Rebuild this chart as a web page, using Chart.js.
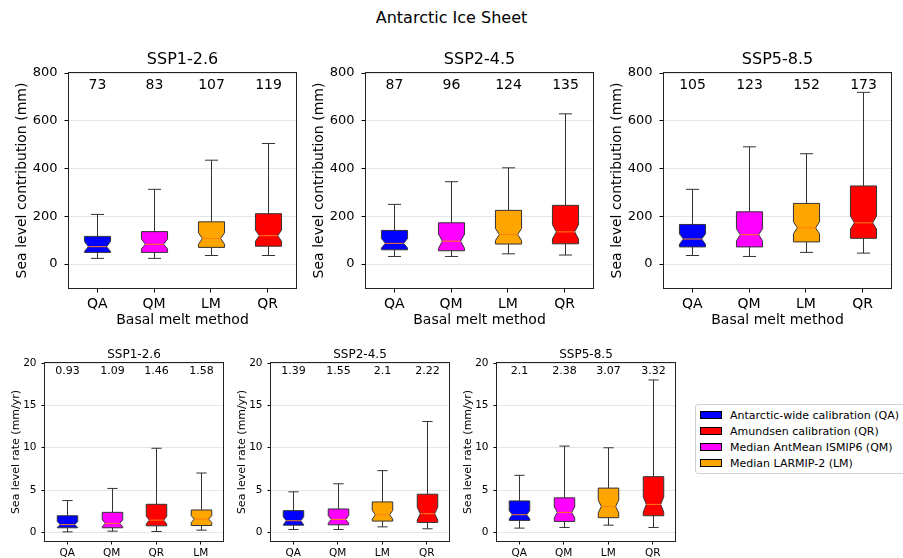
<!DOCTYPE html>
<html>
<head>
<meta charset="utf-8">
<script src="https://cdn.jsdelivr.net/npm/chart.js@4.4.1/dist/chart.umd.min.js"></script>
<style>
  body { margin: 0; background: #fff; }
  #fig { position: relative; width: 903px; height: 558px; overflow: hidden; font-family: 'DejaVu Sans'; color: #000; }
  canvas { position: absolute; }
  #suptitle { position: absolute; left: 0; top: 8px; width: 903px; text-align: center; font-size: 16px; }
  #legend { position: absolute; left: 695px; top: 404px; width: 215px; height: 70px; box-sizing: border-box;
            border: 1px solid #d0d0d0; border-radius: 3px; padding-top: 3px; font-size: 11px; }
  #legend .row { height: 16px; line-height: 16px; white-space: nowrap; }
  #legend .sw { display: inline-block; width: 22px; height: 8px; border: 1px solid #000; box-sizing: border-box;
                margin: 0 8px 0 4px; vertical-align: middle; position: relative; top: -1px; }
</style>
</head>
<body>
<div id="fig">
  <div id="suptitle">Antarctic Ice Sheet</div>

  <canvas id="top126" width="300" height="300" style="left:0px;top:40px"></canvas>
  <canvas id="top245" width="300" height="300" style="left:297px;top:40px"></canvas>
  <canvas id="top585" width="300" height="300" style="left:595px;top:40px"></canvas>

  <canvas id="rate126" width="227" height="223" style="left:0px;top:335px"></canvas>
  <canvas id="rate245" width="227" height="223" style="left:226px;top:335px"></canvas>
  <canvas id="rate585" width="227" height="223" style="left:452px;top:335px"></canvas>

  <div id="legend">
    <div class="row"><span class="sw" style="background:#0000ff"></span>Antarctic-wide calibration (QA)</div>
    <div class="row"><span class="sw" style="background:#ff0000"></span>Amundsen calibration (QR)</div>
    <div class="row"><span class="sw" style="background:#ff00ff"></span>Median AntMean ISMIP6 (QM)</div>
    <div class="row"><span class="sw" style="background:#ffa500"></span>Median LARMIP-2 (LM)</div>
  </div>
</div>

<script>
// categories (order differs in the first rate panel)
const topCats = ['QA', 'QM', 'LM', 'QR'];
const rate126Cats = ['QA', 'QM', 'QR', 'LM'];
const rateCats = ['QA', 'QM', 'LM', 'QR'];

const topTicks = [0, 200, 400, 600, 800];
const rateTicks = [0, 5, 10, 15, 20];

const methodColors = { QA: '#0000ff', QM: '#ff00ff', LM: '#ffa500', QR: '#ff0000' };

// Sea level contribution (mm)
const top126Lo = [24, 24, 36, 36];
const top126Q1 = [49, 49, 70, 75];
const top126NotchLo = [53, 63, 83, 96];
const top126Med = [73, 83, 107, 119];
const top126NotchHi = [95, 105, 131, 142];
const top126Q3 = [116, 136, 177, 211];
const top126Hi = [208, 313, 435, 505];

const top245Lo = [32, 32, 43, 38];
const top245Q1 = [60, 56, 84, 85];
const top245NotchLo = [67, 66, 99, 105];
const top245Med = [87, 96, 124, 135];
const top245NotchHi = [107, 126, 149, 165];
const top245Q3 = [141, 173, 225, 246];
const top245Hi = [250, 345, 403, 629];

const top585Lo = [36, 32, 49, 46];
const top585Q1 = [72, 72, 93, 108];
const top585NotchLo = [83, 98, 127, 147];
const top585Med = [105, 123, 152, 173];
const top585NotchHi = [127, 148, 177, 201];
const top585Q3 = [166, 219, 254, 327];
const top585Hi = [313, 491, 462, 719];

// Sea level rate (mm/yr)
const rate126Lo = [0.08, 0.16, 0.12, 0.28];
const rate126Q1 = [0.56, 0.56, 0.79, 0.83];
const rate126NotchLo = [0.6, 0.69, 1.0, 1.18];
const rate126Med = [0.93, 1.09, 1.46, 1.58];
const rate126NotchHi = [1.29, 1.49, 1.92, 1.98];
const rate126Q3 = [1.98, 2.38, 3.33, 2.66];
const rate126Hi = [3.77, 5.2, 9.94, 7.02];

const rate245Lo = [0.36, 0.36, 0.67, 0.44];
const rate245Q1 = [0.87, 0.91, 1.35, 1.19];
const rate245NotchLo = [0.92, 1.1, 1.58, 1.47];
const rate245Med = [1.39, 1.55, 2.1, 2.22];
const rate245NotchHi = [1.86, 2.0, 2.62, 2.97];
const rate245Q3 = [2.58, 2.78, 3.61, 4.52];
const rate245Hi = [4.8, 5.75, 7.3, 13.1];

const rate585Lo = [0.52, 0.6, 0.87, 0.6];
const rate585Q1 = [1.43, 1.31, 1.75, 1.98];
const rate585NotchLo = [1.62, 1.73, 2.32, 2.42];
const rate585Med = [2.1, 2.38, 3.07, 3.32];
const rate585NotchHi = [2.58, 3.03, 3.82, 4.22];
const rate585Q3 = [3.73, 4.09, 5.24, 6.59];
const rate585Hi = [6.75, 10.2, 10.0, 18.0];

Chart.defaults.font.family = 'DejaVu Sans';
Chart.defaults.color = '#000';

// draws the notched boxes, whiskers, median labels, frame and panel title
const boxPlugin = {
  id: 'boxes',
  afterDatasetsDraw(chart, args, opts) {
    const { ctx, chartArea: a, scales: { x, y } } = chart;
    const s = opts.stats;
    const step = x.getPixelForValue(1) - x.getPixelForValue(0);
    const bw = step * 0.46;
    const py = v => y.getPixelForValue(v);
    ctx.save();
    ctx.lineWidth = 1;
    chart.data.labels.forEach((cat, i) => {
      const xc = Math.round(x.getPixelForValue(i)) + 0.5;
      const l = xc - bw / 2, r = xc + bw / 2, ins = bw * 0.15;

      // whiskers + caps
      ctx.strokeStyle = '#333';
      ctx.beginPath();
      ctx.moveTo(xc, py(s.q1[i])); ctx.lineTo(xc, py(s.lo[i]));
      ctx.moveTo(xc, py(s.q3[i])); ctx.lineTo(xc, py(s.hi[i]));
      ctx.moveTo(xc - bw / 4, py(s.lo[i])); ctx.lineTo(xc + bw / 4, py(s.lo[i]));
      ctx.moveTo(xc - bw / 4, py(s.hi[i])); ctx.lineTo(xc + bw / 4, py(s.hi[i]));
      ctx.stroke();

      // notched box
      ctx.beginPath();
      ctx.moveTo(l, py(s.q1[i]));
      ctx.lineTo(r, py(s.q1[i]));
      ctx.lineTo(r, py(s.nLo[i]));
      ctx.lineTo(r - ins, py(s.med[i]));
      ctx.lineTo(r, py(s.nHi[i]));
      ctx.lineTo(r, py(s.q3[i]));
      ctx.lineTo(l, py(s.q3[i]));
      ctx.lineTo(l, py(s.nHi[i]));
      ctx.lineTo(l + ins, py(s.med[i]));
      ctx.lineTo(l, py(s.nLo[i]));
      ctx.closePath();
      ctx.fillStyle = methodColors[cat];
      ctx.fill();
      ctx.stroke();

      // median line
      ctx.strokeStyle = '#ff7f0e';
      ctx.beginPath();
      ctx.moveTo(l + ins, py(s.med[i]));
      ctx.lineTo(r - ins, py(s.med[i]));
      ctx.stroke();

      // median value on top
      ctx.fillStyle = '#000';
      ctx.font = opts.labelFont + 'px DejaVu Sans';
      ctx.textAlign = 'center';
      ctx.textBaseline = 'middle';
      ctx.fillText(String(s.med[i]), xc, a.top + opts.labelDy);
    });

    // axes frame
    ctx.strokeStyle = '#222';
    ctx.strokeRect(a.left - 0.5, a.top - 0.5, a.right - a.left + 1, a.bottom - a.top + 1);

    // panel title
    ctx.fillStyle = '#000';
    ctx.font = opts.titleFont + 'px DejaVu Sans';
    ctx.textAlign = 'center';
    ctx.textBaseline = 'middle';
    ctx.fillText(opts.title, (a.left + a.right) / 2, a.top - opts.titleDy);
    ctx.restore();
  }
};

function boxPanel(id, title, cats, stats, o) {
  return new Chart(document.getElementById(id), {
    type: 'line',
    data: {
      labels: cats,
      datasets: [{ data: stats.med, showLine: false, pointRadius: 0 }]
    },
    options: {
      responsive: false,
      animation: false,
      events: [],
      layout: { padding: { top: o.padTop, right: 4, left: 0, bottom: 0 } },
      plugins: {
        legend: { display: false },
        tooltip: { enabled: false },
        boxes: { stats: stats, title: title, titleFont: o.titleFont, titleDy: o.titleDy,
                 labelFont: o.labelFont, labelDy: o.labelDy }
      },
      scales: {
        x: {
          offset: true,
          grid: { offset: false, drawOnChartArea: false, tickLength: o.tick, tickColor: '#000' },
          border: { display: false },
          ticks: { font: { size: o.xFont }, padding: o.xPad, color: '#000' },
          title: o.xTitle
            ? { display: true, text: o.xTitle, font: { size: o.xTitleFont }, padding: { top: 0, bottom: o.xTitlePad } }
            : { display: false },
          afterFit: sc => { sc.height = o.xH; }
        },
        y: {
          min: o.min,
          max: o.max,
          afterBuildTicks: sc => { sc.ticks = o.ticks.map(v => ({ value: v })); },
          grid: { color: '#e6e6e6', tickColor: '#000', tickLength: o.tick },
          border: { display: false },
          ticks: { font: { size: o.yFont }, padding: o.yPad, color: '#000' },
          title: { display: true, text: o.yTitle, font: { size: o.yTitleFont }, padding: { top: o.yTitlePad, bottom: 0 } },
          afterFit: sc => { sc.width = o.yW; }
        }
      }
    },
    plugins: [boxPlugin]
  });
}

const topOpts = {
  padTop: 33, xH: 52, yW: 69, min: -100, max: 800, ticks: topTicks, tick: 4.5,
  xFont: 14, xPad: 3, yFont: 13, yPad: 7,
  xTitle: 'Basal melt method', xTitleFont: 14, xTitlePad: 11.6,
  yTitle: 'Sea level contribution (mm)', yTitleFont: 14, yTitlePad: 13.6,
  titleFont: 16, titleDy: 13, labelFont: 14, labelDy: 12
};

const rateOpts = {
  padTop: 28, xH: 17, yW: 45, min: -1, max: 20, ticks: rateTicks, tick: 3.5,
  xFont: 10.5, xPad: 2, yFont: 10.5, yPad: 5,
  xTitle: null,
  yTitle: 'Sea level rate (mm/yr)', yTitleFont: 11, yTitlePad: 9.9,
  titleFont: 12, titleDy: 8, labelFont: 11, labelDy: 8
};

boxPanel('top126', 'SSP1-2.6', topCats, { lo: top126Lo, q1: top126Q1, nLo: top126NotchLo, med: top126Med, nHi: top126NotchHi, q3: top126Q3, hi: top126Hi }, topOpts);
boxPanel('top245', 'SSP2-4.5', topCats, { lo: top245Lo, q1: top245Q1, nLo: top245NotchLo, med: top245Med, nHi: top245NotchHi, q3: top245Q3, hi: top245Hi }, topOpts);
boxPanel('top585', 'SSP5-8.5', topCats, { lo: top585Lo, q1: top585Q1, nLo: top585NotchLo, med: top585Med, nHi: top585NotchHi, q3: top585Q3, hi: top585Hi }, topOpts);

boxPanel('rate126', 'SSP1-2.6', rate126Cats, { lo: rate126Lo, q1: rate126Q1, nLo: rate126NotchLo, med: rate126Med, nHi: rate126NotchHi, q3: rate126Q3, hi: rate126Hi }, rateOpts);
boxPanel('rate245', 'SSP2-4.5', rateCats, { lo: rate245Lo, q1: rate245Q1, nLo: rate245NotchLo, med: rate245Med, nHi: rate245NotchHi, q3: rate245Q3, hi: rate245Hi }, rateOpts);
boxPanel('rate585', 'SSP5-8.5', rateCats, { lo: rate585Lo, q1: rate585Q1, nLo: rate585NotchLo, med: rate585Med, nHi: rate585NotchHi, q3: rate585Q3, hi: rate585Hi }, rateOpts);
</script>
</body>
</html>
